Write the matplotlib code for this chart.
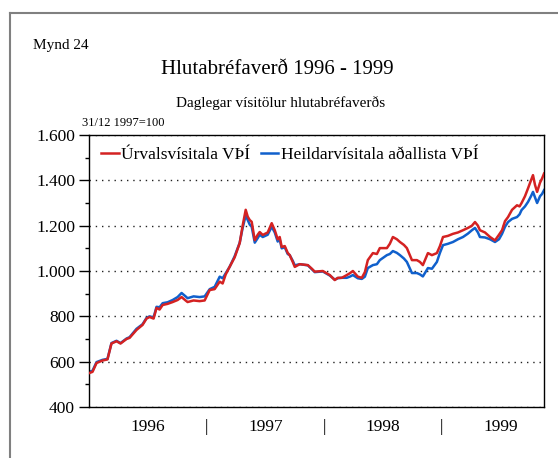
import matplotlib
matplotlib.use("Agg")
import matplotlib.pyplot as plt
from matplotlib.lines import Line2D
from matplotlib.ticker import FuncFormatter, MultipleLocator

plt.rcParams["font.family"] = ["Liberation Serif", "DejaVu Serif"]

# dates as decimal years (31/12 1997 = 100 base)
dates = [1996.004, 1996.030, 1996.064, 1996.115, 1996.157, 1996.191, 1996.234, 1996.268,
         1996.319, 1996.345, 1996.404, 1996.455, 1996.489, 1996.515, 1996.549, 1996.574,
         1996.600, 1996.626, 1996.668, 1996.711, 1996.753, 1996.787, 1996.821, 1996.838,
         1996.889, 1996.940, 1996.983, 1997.026, 1997.068, 1997.111, 1997.136, 1997.162,
         1997.196, 1997.238, 1997.281, 1997.306, 1997.332, 1997.349, 1997.366, 1997.383,
         1997.409, 1997.434, 1997.451, 1997.477, 1997.519, 1997.553, 1997.579, 1997.604,
         1997.621, 1997.638, 1997.664, 1997.689, 1997.706, 1997.732, 1997.749, 1997.791,
         1997.860, 1997.894, 1997.919, 1997.987, 1998.047, 1998.089, 1998.115, 1998.149,
         1998.191, 1998.217, 1998.243, 1998.285, 1998.319, 1998.345, 1998.370, 1998.413,
         1998.447, 1998.472, 1998.532, 1998.557, 1998.583, 1998.617, 1998.643, 1998.677,
         1998.702, 1998.745, 1998.787, 1998.813, 1998.838, 1998.881, 1998.915, 1998.957,
         1998.983, 1999.009, 1999.051, 1999.094, 1999.136, 1999.179, 1999.221, 1999.255,
         1999.281, 1999.306, 1999.323, 1999.366, 1999.409, 1999.451, 1999.485, 1999.511,
         1999.536, 1999.562, 1999.596, 1999.638, 1999.660, 1999.677, 1999.706, 1999.732,
         1999.757, 1999.774, 1999.791, 1999.809, 1999.834, 1999.851, 1999.868]

urval = [550, 555, 594, 605, 610, 680, 690, 680, 700, 705, 740, 762, 790, 797, 790, 837,
         830, 850, 855, 863, 872, 885, 870, 863, 870, 867, 870, 916, 920, 953, 945, 985,
         1019, 1060, 1123, 1200, 1270, 1240, 1225, 1217, 1136, 1160, 1172, 1159, 1170, 1211,
         1180, 1140, 1150, 1106, 1110, 1080, 1070, 1040, 1018, 1030, 1026, 1010, 997, 1000,
         982, 960, 970, 970, 982, 990, 1000, 975, 970, 995, 1048, 1079, 1075, 1101, 1101,
         1120, 1150, 1140, 1128, 1115, 1101, 1048, 1048, 1040, 1026, 1079, 1070, 1079, 1110,
         1150, 1155, 1164, 1170, 1180, 1190, 1200, 1216, 1200, 1180, 1170, 1150, 1135, 1160,
         1180, 1220, 1238, 1270, 1290, 1285, 1300, 1330, 1365, 1400, 1423, 1380, 1349, 1390,
         1408, 1430]

heild = [555, 560, 598, 608, 612, 682, 692, 682, 702, 708, 745, 765, 793, 800, 795, 842,
         840, 858, 862, 872, 885, 903, 888, 880, 888, 885, 888, 920, 930, 975, 968, 990,
         1019, 1065, 1125, 1190, 1245, 1225, 1205, 1195, 1125, 1145, 1160, 1150, 1160, 1195,
         1170, 1130, 1140, 1100, 1105, 1075, 1070, 1045, 1025, 1030, 1025, 1008, 995, 998,
         980, 962, 968, 970, 970, 975, 982, 968, 965, 975, 1013, 1026, 1030, 1048, 1070,
         1075, 1088, 1080, 1070, 1055, 1040, 991, 991, 985, 976, 1013, 1010, 1040, 1080,
         1114, 1120, 1128, 1140, 1150, 1165, 1180, 1190, 1170, 1150, 1148, 1140, 1128, 1140,
         1164, 1195, 1216, 1230, 1238, 1250, 1269, 1285, 1305, 1330, 1349, 1325, 1300, 1330,
         1340, 1357]

years = ["1996", "1997", "1998", "1999"]

fig = plt.figure(figsize=(5.58, 4.58), dpi=100)
ax = fig.add_axes([0.1595, 0.1114, 0.8155, 0.5938])

ax.plot(dates, urval, color="#d42222", lw=1.8, label="Úrvalsvísitala VÞÍ", zorder=3)
ax.plot(dates, heild, color="#1060cc", lw=1.8, label="Heildarvísitala aðallista VÞÍ", zorder=2)

ax.set_ylim(400, 1600)
ax.set_xlim(1996.0, 1999.868)
ax.yaxis.set_major_locator(MultipleLocator(200))
ax.yaxis.set_minor_locator(MultipleLocator(100))
ax.yaxis.set_major_formatter(FuncFormatter(lambda v, p: f"{v:,.0f}".replace(",", ".")))
ax.tick_params(axis="y", which="major", length=7, width=1, labelsize=12.5, pad=3)
ax.tick_params(axis="y", which="minor", length=3, width=1)
ax.grid(axis="y", which="major", color="#222222", linestyle=(0, (1, 3.5)), lw=1.0)

# year names in the middle of each year, "|" separators between years
ax.set_xticks([1996.5, 1997.5, 1998.5, 1999.5])
ax.set_xticklabels(years)
ax.set_xticks([1997, 1998, 1999], minor=True)
ax.set_xticklabels(["|", "|", "|"], minor=True)
ax.tick_params(axis="x", which="both", length=0, labelsize=12.5, pad=9)

for s in ax.spines.values():
    s.set_linewidth(1)
    s.set_color("black")

ax.legend(loc="upper left", ncol=2, frameon=False, fontsize=12.5, handlelength=1.0,
          handletextpad=0.15, columnspacing=0.6, borderaxespad=0.3, bbox_to_anchor=(0.0, 1.0))

fig.text(33 / 558, 1 - 45 / 458, "Mynd 24", fontsize=11, va="center", ha="left")
fig.text(277 / 558, 1 - 70 / 458, "Hlutabréfaverð 1996 - 1999", fontsize=15, va="center", ha="center")
fig.text(281 / 558, 1 - 103 / 458, "Daglegar vísitölur hlutabréfaverðs", fontsize=11, va="center", ha="center")
fig.text(82 / 558, 1 - 123 / 458, "31/12 1997=100", fontsize=9, va="center", ha="left")

# outer frame of the figure box
fig.add_artist(Line2D([9.5 / 558, 9.5 / 558], [0, 1 - 13 / 458], color="#808080", lw=1.5))
fig.add_artist(Line2D([9.5 / 558, 1], [1 - 13 / 458, 1 - 13 / 458], color="#808080", lw=1.5))

fig.savefig("out.png", dpi=100)
